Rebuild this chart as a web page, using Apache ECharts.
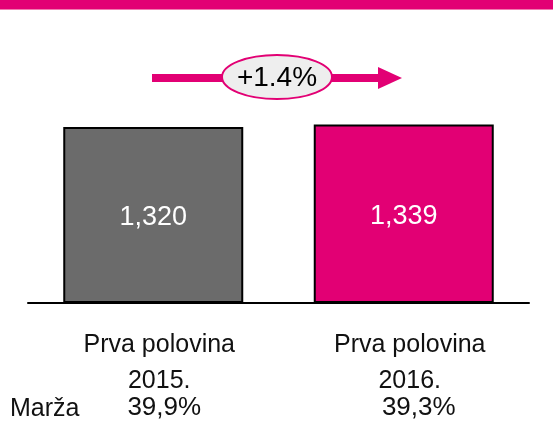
<!DOCTYPE html>
<html>
<head>
<meta charset="utf-8">
<script src="https://cdn.jsdelivr.net/npm/echarts@6/dist/echarts.min.js"></script>
<style>
  html, body { margin: 0; padding: 0; background: #fff; }
  #chart { width: 553px; height: 446px; }
</style>
</head>
<body>
<div id="chart"></div>
<script>
// data
const categories = ['Prva polovina\n2015.', 'Prva polovina\n2016.'];
const values = [1320, 1339];
const barColors = ['#6b6b6b', '#e20074'];
const margins = ['39,9%', '39,3%'];
const marginTitle = 'Marža';
const changeLabel = '+1.4%';

const magenta = '#e20074';
const font = '"Liberation Sans", Arial, sans-serif';

const chart = echarts.init(document.getElementById('chart'));

const option = {
    animation: false,
    grid: { left: 28, right: 24, top: 103, bottom: 143 },
    xAxis: {
        type: 'category',
        data: categories,
        axisLine: { lineStyle: { color: '#000', width: 2 } },
        axisTick: { show: false },
        axisLabel: {
            margin: 22,
            fontFamily: font,
            formatter: (val, idx) => {
                const parts = val.split('\n');
                return '{a|' + parts[0] + '}\n{b|' + parts[1] + '}\n{c' + idx + '|' + margins[idx] + '}';
            },
            rich: {
                a: { fontSize: 25, lineHeight: 40, color: '#111', fontFamily: font, padding: [0, 0, 0, 12] },
                b: { fontSize: 25, lineHeight: 32, color: '#111', fontFamily: font, padding: [0, 0, 0, 12] },
                c0: { fontSize: 26, lineHeight: 22, color: '#111', fontFamily: font, padding: [0, 0, 0, 22] },
                c1: { fontSize: 26, lineHeight: 22, color: '#111', fontFamily: font, padding: [0, 0, 0, 30] }
            }
        }
    },
    yAxis: {
        type: 'value',
        min: 0,
        max: 1500,
        show: false,
        splitLine: { show: false }
    },
    series: [
        {
            type: 'bar',
            barWidth: 180,
            data: values.map((v, i) => ({
                value: v,
                itemStyle: { color: barColors[i] }
            })),
            itemStyle: { borderColor: '#000', borderWidth: 2 },
            label: {
                show: true,
                position: 'inside',
                offset: [0, 3],
                color: '#fff',
                fontSize: 27,
                fontFamily: font,
                formatter: p => p.value.toLocaleString('en-US')
            }
        }
    ],
    graphic: [
        // top band
        { type: 'rect', left: 0, top: 0, shape: { width: 553, height: 9 }, style: { fill: magenta } },
        { type: 'rect', left: 0, top: 9, shape: { width: 553, height: 1 }, style: { fill: '#f07ab0' } },
        // growth arrow
        { type: 'rect', shape: { x: 152, y: 74, width: 228, height: 8 }, style: { fill: magenta } },
        { type: 'polygon', shape: { points: [[378, 67], [402, 78], [378, 89]] }, style: { fill: magenta } },
        {
            type: 'ellipse',
            shape: { cx: 277, cy: 77, rx: 55, ry: 22 },
            style: { fill: '#eeeeee', stroke: magenta, lineWidth: 2 }
        },
        {
            type: 'text',
            x: 277, y: 78,
            style: {
                text: changeLabel, fill: '#000', fontSize: 28, fontFamily: font,
                align: 'center', verticalAlign: 'middle'
            }
        },
        // margin row title
        {
            type: 'text',
            x: 10, y: 409,
            style: {
                text: marginTitle, fill: '#111', fontSize: 25, fontFamily: font,
                align: 'left', verticalAlign: 'middle'
            }
        }
    ]
};

chart.setOption(option);
window.addEventListener('resize', () => chart.resize());
</script>
</body>
</html>
